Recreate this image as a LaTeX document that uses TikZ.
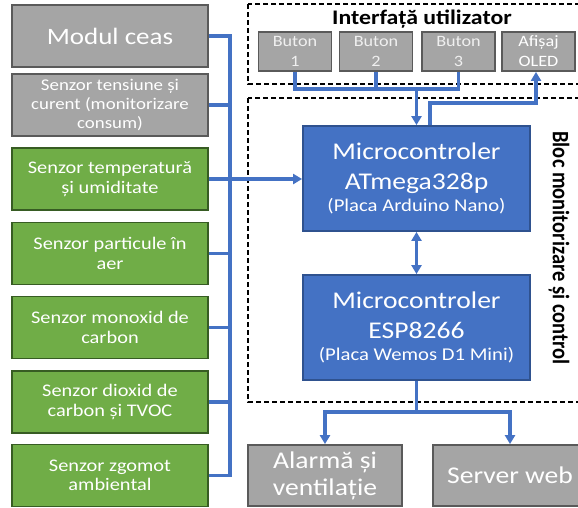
\documentclass[tikz,border=0pt]{standalone}
\usepackage{fontspec}
\usepackage{graphicx}
\setmainfont{Carlito}[FakeStretch=1.15]
\newfontfamily\upfont{Carlito}
\usetikzlibrary{arrows.meta}
\definecolor{boxgrey}{HTML}{A5A5A5}
\definecolor{edgegrey}{HTML}{5A5A5A}
\definecolor{boxgreen}{HTML}{70AD47}
\definecolor{edgegreen}{HTML}{375C23}
\definecolor{boxblue}{HTML}{4472C4}
\definecolor{edgeblue}{HTML}{2F528F}
\begin{document}
\begin{tikzpicture}[x=1pt, y=-1pt,
	every node/.style={inner sep=0pt, align=center, text=white},
	sensor/.style={rectangle, draw=edgegreen, fill=boxgreen, line width=1.8pt, minimum width=196pt, minimum height=62pt, font=\fontsize{17.7}{19.5}\selectfont},
	greybox/.style={rectangle, draw=edgegrey, fill=boxgrey, line width=1.8pt},
	button/.style={greybox, minimum width=73pt, minimum height=39pt, text=gray!12, font=\fontsize{15.8}{20}\selectfont},
	mcu/.style={rectangle, draw=edgeblue, fill=boxblue, line width=1.8pt, minimum width=227pt, minimum height=105pt, font=\fontsize{24}{30}\selectfont},
	output/.style={greybox, minimum width=154pt, minimum height=61pt, font=\fontsize{24}{27}\selectfont},
	group/.style={draw, line width=1.3pt, dash pattern=on 5pt off 3pt},
	wire/.style={draw=boxblue, line width=3.2pt},
	flow/.style={wire, -{Triangle[length=9pt,width=10pt]}}]
			\useasboundingbox (0,0) rectangle (578,507);
			\clip (0,0) rectangle (578,507);
			
			\draw[group] (248,4) rectangle (590,84);
			\draw[group] (248,98) rectangle (590,402);
			\node[text=black, font=\fontsize{20.7}{24}\selectfont\bfseries] (uititle) at (422,19) {Interfață utilizator};
			\node[text=black, rotate=-90, font=\upfont\fontsize{20.5}{24}\selectfont\bfseries] (bloctitle) at (559,248) {\scalebox{1}[1.15]{Bloc monitorizare și control}};
			
			\node[sensor, draw=edgegrey, fill=boxgrey, font=\fontsize{23.5}{26}\selectfont] (ceas) at (110,36) {Modul ceas};
			\node[sensor, draw=edgegrey, fill=boxgrey, font=\fontsize{16.4}{19}\selectfont] (tens) at (110,105) {Senzor tensiune și\\curent (monitorizare\\consum)};
			\node[sensor] (temp) at (110,179) {Senzor temperatură\\și umiditate};
			\node[sensor] (part) at (110,253.5) {Senzor particule în\\aer};
			\node[sensor] (co) at (110,327.5) {Senzor monoxid de\\carbon};
			\node[sensor] (co2) at (110,402) {Senzor dioxid de\\carbon și TVOC};
			\node[sensor] (zgom) at (110,475.5) {Senzor zgomot\\ambiental};
			
			\node[button] (b1) at (295,51.5) {Buton\\1};
			\node[button] (b2) at (376,51.5) {Buton\\2};
			\node[button] (b3) at (458.5,51.5) {Buton\\3};
			\node[button, text=white] (oled) at (538.5,51.5) {Afișaj\\OLED};
			
			\node[mcu] (atmega) at (416.5,178.5) {Microcontroler\\ATmega328p\\[-8pt]{\fontsize{18}{20}\selectfont (Placa Arduino Nano)}};
			\node[mcu] (esp) at (416.5,327.5) {Microcontroler\\ESP8266\\[-8pt]{\fontsize{18}{20}\selectfont (Placa Wemos D1 Mini)}};
			
			\node[output] (alarm) at (325,475.5) {Alarmă și\\ventilație};
			\node[output] (server) at (510,475.5) {Server web};
			
			\coordinate (bus) at (230,0);
			\coordinate (join) at (416.5,89);
			\coordinate (oledturn) at (430,103);
			\coordinate (split) at (416.5,412);
			
			\draw[wire] (ceas.east) -| (zgom.east -| bus) -- (zgom.east);
			\foreach \s in {tens,temp,part,co,co2}
			\draw[wire] (\s.east) -- (\s.east -| bus);
			\draw[flow] (temp.east -| bus) -- (atmega.west |- temp.east);
			
			\foreach \b in {b1,b2,b3}
			\draw[wire] (\b.south) |- (join);
			\draw[flow] (join) -- (atmega.north);
			\draw[flow] (atmega.north -| oledturn) -- (oledturn) -| (oled.south -| 536,0);
			
			\draw[wire, {Triangle[length=9pt,width=10pt]}-{Triangle[length=9pt,width=10pt]}] (atmega.south) -- (esp.north);
			\draw[wire] (esp.south) -- (split);
			\foreach \to in {alarm,server}
			\draw[flow] (split) -| (\to.north);
\end{tikzpicture}
\end{document}
